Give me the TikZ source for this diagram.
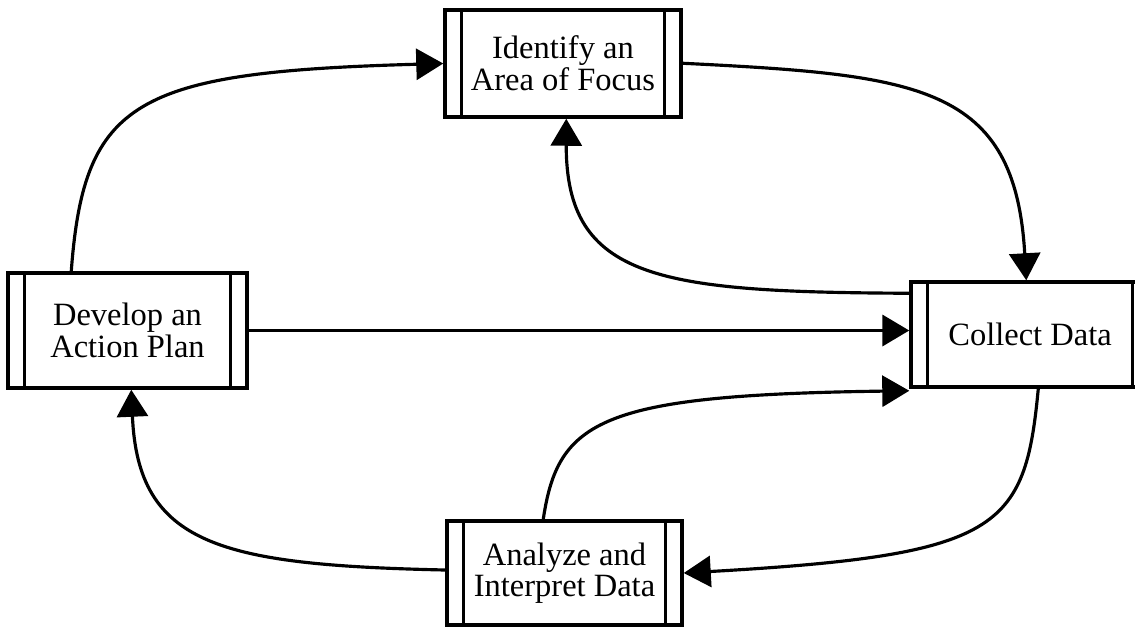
\documentclass[tikz,border=0pt]{standalone}
\usepackage{fontspec}
\setmainfont{Liberation Serif}
\usetikzlibrary{arrows.meta,calc}

\begin{document}
\begin{tikzpicture}[x=0.02cm,y=-0.02cm,
		procbox/.style={draw, line width=2pt, align=center,
			font=\fontsize{18.5}{18}\selectfont,
			path picture={
				\draw[line width=1.5pt] ([xshift=0.33cm]path picture bounding box.north west) -- ([xshift=0.33cm]path picture bounding box.south west);
				\draw[line width=1.5pt] ([xshift=-0.33cm]path picture bounding box.north east) -- ([xshift=-0.33cm]path picture bounding box.south east);}},
		flow/.style={line width=1.8pt, -{Triangle[length=0.54cm,width=0.62cm]}}]
		
		% page frame, the right box runs off the edge
		\clip[use as bounding box] (0,0) rectangle (1135,627);
		
		% the four steps
		\node[procbox, minimum width=4.72cm, minimum height=2.14cm] (identify) at (563,63.5) {Identify an\\Area of Focus};
		\node[procbox, minimum width=4.78cm, minimum height=2.30cm] (develop) at (127.5,330.5) {Develop an\\Action Plan};
		\node[procbox, minimum width=4.76cm, minimum height=2.10cm] (collect) at (1030,334.5) {Collect Data};
		\node[procbox, minimum width=4.70cm, minimum height=2.08cm] (analyze) at (564.5,573) {Analyze and\\Interpret Data};
		
		% outer loop
		\draw[flow] ($(develop.north west)+(65,0)$) .. controls (84,100) and (135,72) .. (identify.west);
		\draw[flow] ($(identify.north east)+(0,55)$) .. controls (920,75) and (1015,85) .. ($(collect.north west)+(117,0)$);
		\draw[flow] ($(collect.south west)+(129,0)$) .. controls (1025,530) and (1000,555) .. (analyze.east);
		\draw[flow] ($(analyze.west)+(0,-3)$) .. controls (220,565) and (138,545) .. ($(develop.south west)+(125,0)$);
		
		% inner returns
		\draw[flow] ($(collect.north west)+(0,13)$) .. controls (660,292) and (566,280) .. ($(identify.south west)+(123,0)$);
		\draw[flow] ($(analyze.north west)+(98,0)$) .. controls (558,420) and (600,395) .. ($(collect.south west)+(0,2)$);
		
		% straight across
		\draw[flow, line width=2.2pt] (develop.east) -- (develop.east -| collect.west);
		
\end{tikzpicture}
\end{document}
